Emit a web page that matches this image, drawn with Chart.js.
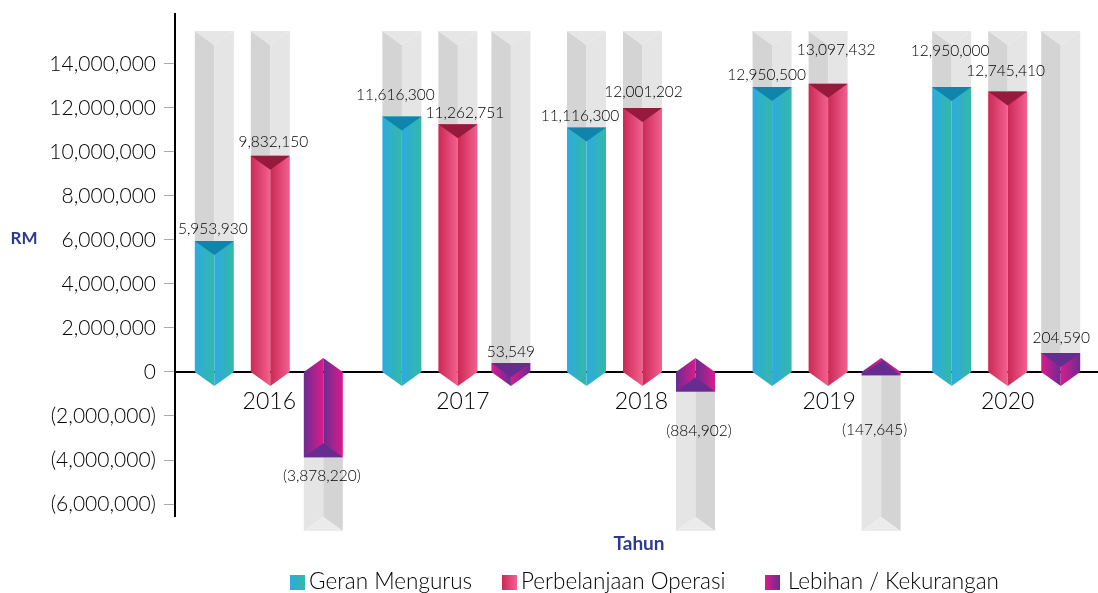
<!DOCTYPE html>
<html>
<head>
<meta charset="utf-8">
<style>html,body{margin:0;padding:0;background:#fff}canvas{display:block}</style>
<script src="https://cdn.jsdelivr.net/npm/chart.js@4"></script>
</head>
<body>
<canvas id="chart" width="1098" height="593"></canvas>
<script>
// ----- data -----
const years = ['2016', '2017', '2018', '2019', '2020'];
const geran = [5953930, 11616300, 11116300, 12950500, 12950000];
const belanja = [9832150, 11262751, 12001202, 13097432, 12745410];
const lebihan = [-3878220, 53549, -884902, -147645, 204590];
const yTicks = [14000000, 12000000, 10000000, 8000000, 6000000, 4000000, 2000000, 0, -2000000, -4000000, -6000000];
const seriesNames = ['Geran Mengurus', 'Perbelanjaan Operasi', 'Lebihan / Kekurangan'];
const yTitle = 'RM';
const xTitle = 'Tahun';

// ----- look -----
const FONT = 'Lato, sans-serif';
const TIP = 14;
const GHOST_TOP = 15500000;
const GHOST_BOTTOM = -7230000;
const groupShift = [3, 6, 6, 7, 2];
const seriesShift = [-1, 0, -2];
const yearShift = [2, 11, 5, 8, 2];
// the small surpluses are drawn taller than their value in the source picture
const minRise = { 1: 9, 4: 19 };
const labelShift = [
  [[-1.5, -12], [-6.5, -21], [-6.5, -11], [-5.5, -12], [-1.5, -36]],
  [[3, -14], [7, -11], [1, -16], [8, -34], [-2, -21]],
  [[-1.5, 19], [0, -11], [3.5, 40], [-6.5, 55], [0.5, -15]]
];
const faces = [
  { a: '#2dabe0', b: '#34b8a6', cap: '#0f84ad' },
  { a: '#cc2855', b: '#f2618f', cap: '#951a3d' },
  { a: '#6a2c91', b: '#da1b8c', cap: '#652d90' }
];

function poly(ctx, pts, fill) {
  ctx.beginPath();
  pts.forEach((p, i) => i ? ctx.lineTo(p[0], p[1]) : ctx.moveTo(p[0], p[1]));
  ctx.closePath();
  ctx.fillStyle = fill;
  ctx.fill();
}

function grad(ctx, x0, x1, a, b) {
  const g = ctx.createLinearGradient(x0, 0, x1, 0);
  g.addColorStop(0, a);
  g.addColorStop(1, b);
  return g;
}

function fmt(v) {
  const s = Math.abs(v).toLocaleString('en-US');
  return v < 0 ? '(' + s + ')' : s;
}

// draws the prism bars on top of the (transparent) library bars
const prismPlugin = {
  id: 'prism',
  afterDatasetsDraw(chart) {
    const ctx = chart.ctx;
    const y = chart.scales.y;
    const zero = y.getPixelForValue(0);
    const gTop = y.getPixelForValue(GHOST_TOP);
    const gBot = y.getPixelForValue(GHOST_BOTTOM);
    const texts = [];
    ctx.save();
    chart.data.datasets.forEach((ds, s) => {
      chart.getDatasetMeta(s).data.forEach((bar, i) => {
        const p = bar.getProps(['x', 'y', 'width']);
        const c = p.x + groupShift[i] + seriesShift[s];
        const x0 = c - p.width / 2;
        const x1 = c + p.width / 2;
        const f = faces[s];
        const v = ds.data[i];
        let end = p.y;
        if (v >= 0) {
          if (s === 2 && minRise[i]) end = zero - minRise[i];
          // ghost above
          poly(ctx, [[x0, gTop], [c, gTop + TIP], [c, end], [x0, end]], '#d4d4d4');
          poly(ctx, [[c, gTop + TIP], [x1, gTop], [x1, end], [c, end]], '#e5e5e5');
          poly(ctx, [[x0, gTop], [x1, gTop], [c, gTop + TIP]], '#e6e6e6');
          // faces
          const a = s === 2 ? f.b : f.a;
          const b = s === 2 ? f.a : f.b;
          poly(ctx, [[x0, end], [c, end], [c, zero + TIP], [x0, zero]], grad(ctx, x0, c, a, b));
          poly(ctx, [[c, end], [x1, end], [x1, zero], [c, zero + TIP]], grad(ctx, c, x1, a, b));
          poly(ctx, [[x0, end], [x1, end], [c, end + TIP]], f.cap);
        } else {
          // ghost below
          poly(ctx, [[x0, end], [c, end], [c, gBot - TIP], [x0, gBot]], '#e5e5e5');
          poly(ctx, [[c, end], [x1, end], [x1, gBot], [c, gBot - TIP]], '#d4d4d4');
          poly(ctx, [[x0, gBot], [c, gBot - TIP], [x1, gBot]], '#ebebeb');
          // faces
          poly(ctx, [[x0, zero], [c, zero - TIP], [c, end], [x0, end]], grad(ctx, x0, c, f.a, f.b));
          poly(ctx, [[c, zero - TIP], [x1, zero], [x1, end], [c, end]], grad(ctx, c, x1, f.a, f.b));
          poly(ctx, [[x0, end], [x1, end], [c, end - TIP]], f.cap);
        }
        texts.push([fmt(v), c + labelShift[s][i][0], end + labelShift[s][i][1]]);
      });
    });

    // value labels go last so no ghost covers them
    ctx.fillStyle = '#000';
    ctx.font = '300 15.5px ' + FONT;
    ctx.textAlign = 'center';
    ctx.textBaseline = 'middle';
    texts.forEach(t => ctx.fillText(t[0], t[1], t[2]));

    // axis titles
    ctx.fillStyle = '#2e3a8c';
    ctx.font = 'bold 17px ' + FONT;
    ctx.fillText(yTitle, 24, 239);
    ctx.font = 'bold 19px ' + FONT;
    ctx.fillText(xTitle, 639, 544);

    // legend
    const swatch = [[290, 309], [502, 521], [765, 788]];
    seriesNames.forEach((name, s) => {
      const sx = swatch[s][0];
      const f = faces[s];
      const a = s === 2 ? f.b : f.a;
      const b = s === 2 ? f.a : f.b;
      ctx.fillStyle = grad(ctx, sx, sx + 15, a, b);
      ctx.fillRect(sx, 575, 15, 15);
      ctx.fillStyle = '#000';
      ctx.font = '300 22.5px ' + FONT;
      ctx.textAlign = 'left';
      ctx.fillText(name, swatch[s][1], 582);
    });
    ctx.restore();
  }
};

const mkSet = (label, data) => ({
  label,
  data,
  backgroundColor: 'transparent',
  categoryPercentage: 0.924,
  barPercentage: 0.709
});

new Chart(document.getElementById('chart').getContext('2d'), {
  type: 'bar',
  data: {
    labels: years,
    datasets: [mkSet(seriesNames[0], geran), mkSet(seriesNames[1], belanja), mkSet(seriesNames[2], lebihan)]
  },
  options: {
    responsive: false,
    animation: false,
    layout: { padding: { top: 14, bottom: 77, left: 0, right: 0 } },
    plugins: { legend: { display: false }, tooltip: { enabled: false } },
    scales: {
      x: {
        position: { y: 0 },
        grid: { display: false, drawTicks: false },
        border: { color: '#000', width: 2 },
        ticks: { color: '#000', font: { size: 23, family: FONT, weight: '300' }, padding: 16, autoSkip: false, maxRotation: 0 },
        afterBuildTicks: (s) => {
          const base = s.constructor.prototype.getPixelForTick;
          s.getPixelForTick = (i) => base.call(s, i) + yearShift[i];
        }
      },
      y: {
        min: -6545000,
        max: 16270000,
        afterBuildTicks: (s) => { s.ticks = yTicks.map(v => ({ value: v })); },
        afterFit: (s) => { s.width = 175; s.paddingTop = 0; s.paddingBottom = 0; },
        grid: { drawOnChartArea: false, tickLength: 11, color: '#aaa', tickWidth: 1 },
        border: { color: '#000', width: 2 },
        ticks: { color: '#000', font: { size: 21, family: FONT, weight: '300' }, padding: 8, callback: (v) => fmt(v) }
      }
    }
  },
  plugins: [prismPlugin]
});
</script>
</body>
</html>
